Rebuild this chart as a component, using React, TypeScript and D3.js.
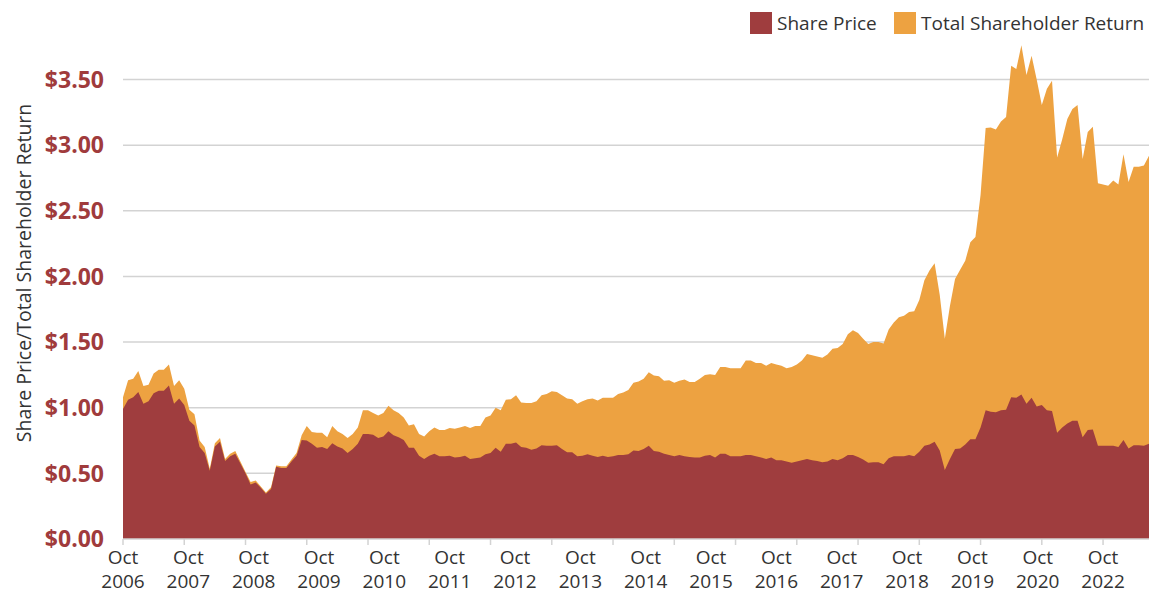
import React from "react";
import * as d3 from "d3";

// Monthly data starting October 2006
const startLabel = "Oct 2006";
const sharePrice: number[] = [
  0.99, 1.06, 1.08, 1.12, 1.03, 1.05, 1.11, 1.13, 1.13, 1.17,
  1.03, 1.07, 1.02, 0.90, 0.865, 0.70, 0.655, 0.52, 0.705, 0.74,
  0.595, 0.63, 0.65, 0.575, 0.50, 0.415, 0.43, 0.39, 0.345, 0.38,
  0.55, 0.54, 0.54, 0.59, 0.635, 0.755, 0.75, 0.725, 0.695, 0.70,
  0.685, 0.73, 0.705, 0.69, 0.655, 0.685, 0.725, 0.80, 0.80, 0.795,
  0.77, 0.78, 0.82, 0.79, 0.775, 0.755, 0.695, 0.695, 0.635, 0.61,
  0.635, 0.65, 0.63, 0.63, 0.635, 0.62, 0.625, 0.635, 0.61, 0.615,
  0.62, 0.645, 0.655, 0.695, 0.665, 0.725, 0.725, 0.735, 0.70, 0.695,
  0.68, 0.69, 0.715, 0.71, 0.71, 0.715, 0.685, 0.66, 0.66, 0.63,
  0.635, 0.645, 0.635, 0.625, 0.635, 0.625, 0.63, 0.64, 0.64, 0.645,
  0.675, 0.67, 0.685, 0.71, 0.67, 0.665, 0.65, 0.64, 0.63, 0.64,
  0.63, 0.625, 0.62, 0.62, 0.635, 0.64, 0.62, 0.65, 0.65, 0.63,
  0.63, 0.63, 0.64, 0.64, 0.63, 0.62, 0.61, 0.62, 0.60, 0.60,
  0.59, 0.58, 0.59, 0.60, 0.61, 0.60, 0.595, 0.585, 0.59, 0.61,
  0.60, 0.615, 0.64, 0.64, 0.625, 0.605, 0.58, 0.585, 0.585, 0.57,
  0.615, 0.63, 0.63, 0.63, 0.64, 0.63, 0.665, 0.71, 0.72, 0.74,
  0.675, 0.525, 0.61, 0.685, 0.69, 0.72, 0.76, 0.76, 0.85, 0.98,
  0.97, 0.965, 0.98, 0.985, 1.08, 1.075, 1.10, 1.03, 1.075, 1.01,
  1.02, 0.98, 0.975, 0.81, 0.85, 0.88, 0.90, 0.90, 0.775, 0.83,
  0.835, 0.71, 0.71, 0.71, 0.71, 0.70, 0.755, 0.69, 0.715, 0.715,
  0.71, 0.725,
];
const totalShareholderReturn: number[] = [
  1.08, 1.21, 1.22, 1.28, 1.165, 1.175, 1.26, 1.29, 1.29, 1.33,
  1.165, 1.21, 1.145, 0.985, 0.95, 0.75, 0.70, 0.535, 0.73, 0.77,
  0.61, 0.65, 0.67, 0.59, 0.51, 0.435, 0.445, 0.40, 0.355, 0.395,
  0.56, 0.555, 0.555, 0.605, 0.655, 0.79, 0.86, 0.815, 0.81, 0.81,
  0.775, 0.86, 0.82, 0.80, 0.77, 0.80, 0.85, 0.98, 0.98, 0.96,
  0.94, 0.96, 1.015, 0.98, 0.96, 0.925, 0.865, 0.875, 0.80, 0.78,
  0.82, 0.85, 0.83, 0.83, 0.845, 0.84, 0.85, 0.86, 0.845, 0.86,
  0.86, 0.925, 0.94, 1.00, 0.98, 1.06, 1.065, 1.095, 1.04, 1.035,
  1.035, 1.05, 1.095, 1.105, 1.125, 1.12, 1.095, 1.07, 1.065, 1.03,
  1.05, 1.065, 1.07, 1.055, 1.075, 1.075, 1.075, 1.105, 1.115, 1.135,
  1.19, 1.20, 1.22, 1.27, 1.245, 1.24, 1.205, 1.21, 1.19, 1.205,
  1.215, 1.195, 1.195, 1.22, 1.25, 1.255, 1.25, 1.31, 1.31, 1.30,
  1.30, 1.30, 1.36, 1.36, 1.34, 1.34, 1.32, 1.34, 1.33, 1.32,
  1.30, 1.31, 1.33, 1.36, 1.41, 1.40, 1.39, 1.38, 1.405, 1.45,
  1.455, 1.485, 1.56, 1.59, 1.57, 1.525, 1.485, 1.50, 1.50, 1.49,
  1.595, 1.65, 1.69, 1.70, 1.73, 1.735, 1.82, 1.97, 2.045, 2.10,
  1.86, 1.525, 1.775, 1.98, 2.05, 2.12, 2.26, 2.30, 2.62, 3.13,
  3.135, 3.12, 3.18, 3.215, 3.605, 3.58, 3.76, 3.535, 3.68, 3.50,
  3.305, 3.43, 3.49, 2.905, 3.045, 3.20, 3.275, 3.305, 2.895, 3.10,
  3.14, 2.71, 2.70, 2.69, 2.73, 2.70, 2.93, 2.72, 2.835, 2.835,
  2.845, 2.92,
];
const yTicks: number[] = [0, 0.5, 1, 1.5, 2, 2.5, 3, 3.5];
const xTickLabelYears: string[] = [
  "2006", "2007", "2008", "2009", "2010", "2011", "2012", "2013",
  "2014", "2015", "2016", "2017", "2018", "2019", "2020", "2022",
];
const seriesNames: string[] = ["Share Price", "Total Shareholder Return"];
const seriesColors: string[] = ["#9f3d3e", "#eda241"];

export default function App() {
  const W = 1158;
  const H = 594;
  const left = 123;
  const right = 1149;
  const bottom = 539;
  const n = sharePrice.length;

  const x = d3.scaleLinear().domain([0, n - 1]).range([left, right]);
  const y = d3.scaleLinear().domain([0, 3.5]).range([bottom, 79.5]);

  const area = (vals: number[]) =>
    d3
      .area<number>()
      .x((_, i) => x(i))
      .y0(y(0))
      .y1((d) => y(d))(vals) || "";

  const tickIdx = d3.range(0, n, 12);
  const firstTick = x(0);
  const lastLabeledTick = x(tickIdx[xTickLabelYears.length]);
  const labelStep = (lastLabeledTick - firstTick) / (xTickLabelYears.length - 1);

  const font = "'Open Sans', 'Noto Sans', sans-serif";

  return (
    <svg
      width={W}
      height={H}
      style={{ position: "absolute", left: 0, top: 0, background: "#fff" }}
      fontFamily={font}
    >
      {yTicks.slice(1).map((t) => (
        <line
          key={t}
          x1={left}
          x2={right}
          y1={y(t)}
          y2={y(t)}
          stroke="#d3d3d3"
          strokeWidth={1.5}
        />
      ))}
      <path d={area(totalShareholderReturn)} fill={seriesColors[1]} />
      <path d={area(sharePrice)} fill={seriesColors[0]} />
      <line x1={left} x2={right} y1={bottom} y2={bottom} stroke="#d3d3d3" strokeWidth={1.5} />
      {tickIdx.map((i) => (
        <line
          key={i}
          x1={x(i)}
          x2={x(i)}
          y1={bottom}
          y2={bottom + 6}
          stroke="#d3d3d3"
          strokeWidth={1.5}
        />
      ))}
      {yTicks.map((t) => (
        <text
          key={t}
          x={104}
          y={y(t)}
          dy="0.36em"
          textAnchor="end"
          fontSize={23}
          fontWeight={700}
          fill="#a03b3c"
        >
          {"$" + t.toFixed(2)}
        </text>
      ))}
      {xTickLabelYears.map((yr, k) => (
        <text
          key={yr}
          x={firstTick + k * labelStep}
          textAnchor="middle"
          fontSize={19}
          fill="#333"
        >
          <tspan x={firstTick + k * labelStep} y={564}>
            {startLabel.split(" ")[0]}
          </tspan>
          <tspan x={firstTick + k * labelStep} y={588}>
            {yr}
          </tspan>
        </text>
      ))}
      <text
        transform={`translate(31, 273) rotate(-90)`}
        textAnchor="middle"
        fontSize={19.5}
        fill="#333"
      >
        Share Price/Total Shareholder Return
      </text>
      <g>
        <rect x={750} y={12} width={22} height={22} fill={seriesColors[0]} />
        <text x={777} y={30} fontSize={19} fill="#333">
          {seriesNames[0]}
        </text>
        <rect x={894} y={12} width={22} height={22} fill={seriesColors[1]} />
        <text x={921} y={30} fontSize={19} fill="#333">
          {seriesNames[1]}
        </text>
      </g>
    </svg>
  );
}
